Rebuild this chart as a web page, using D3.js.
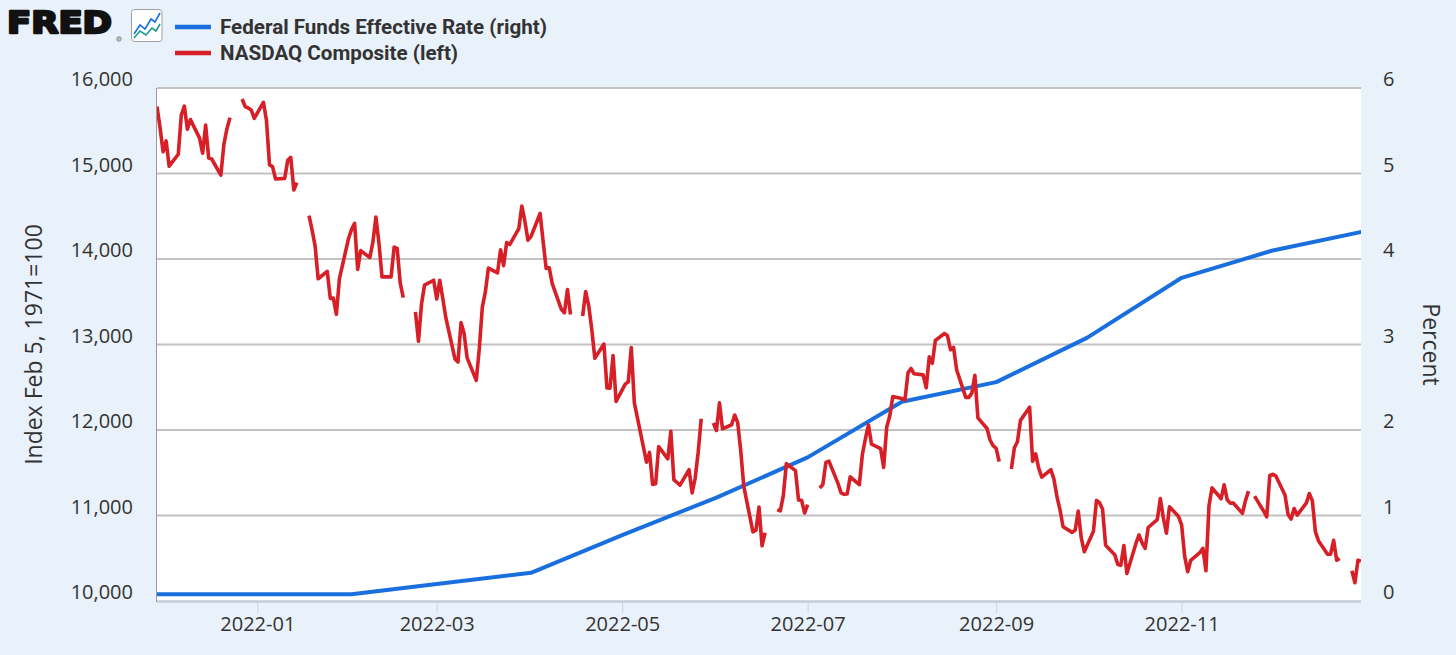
<!DOCTYPE html>
<html><head><meta charset="utf-8">
<script src="https://cdn.jsdelivr.net/npm/d3@7/dist/d3.min.js"></script>
<style>
html,body{margin:0;padding:0;background:#e9f1fa;}
svg{display:block;}
</style></head>
<body>
<svg id="chart" width="1456" height="655"></svg>
<script>
// ---------- DATA ----------
const seriesNames = ["Federal Funds Effective Rate (right)", "NASDAQ Composite (left)"];
const leftAxisTitle = "Index Feb 5, 1971=100";
const rightAxisTitle = "Percent";
const leftTicks = [10000, 11000, 12000, 13000, 14000, 15000, 16000];
const rightTicks = [0, 1, 2, 3, 4, 5, 6];
const xTickLabels = ["2022-01", "2022-03", "2022-05", "2022-07", "2022-09", "2022-11"];
const xDomain = ["2021-11-29", "2022-12-30"];

const fedFundsDates = ["2021-11-01","2021-12-01","2022-01-01","2022-02-01","2022-03-01","2022-04-01","2022-05-01","2022-06-01","2022-07-01","2022-08-01","2022-09-01","2022-10-01","2022-11-01","2022-12-01","2023-01-01"];
const fedFundsValues = [0.08,0.08,0.08,0.08,0.20,0.33,0.77,1.21,1.68,2.33,2.56,3.08,3.78,4.10,4.33];

// NASDAQ daily close (null = market holiday, breaks the line)
const nasdaq = [
["2021-11-29",15782.83],["2021-11-30",15537.69],
["2021-12-01",15254.05],["2021-12-02",15381.32],["2021-12-03",15085.47],["2021-12-06",15225.15],["2021-12-07",15686.92],
["2021-12-08",15786.99],["2021-12-09",15517.37],["2021-12-10",15630.60],["2021-12-13",15413.28],["2021-12-14",15237.64],
["2021-12-15",15565.58],["2021-12-16",15180.43],["2021-12-17",15169.68],["2021-12-20",14980.94],["2021-12-21",15341.09],
["2021-12-22",15521.89],["2021-12-23",15653.37],["2021-12-24",null],["2021-12-27",15871.26],["2021-12-28",15781.72],
["2021-12-29",15766.22],["2021-12-30",15741.56],["2021-12-31",15644.97],
["2022-01-03",15832.80],["2022-01-04",15622.72],["2022-01-05",15100.17],["2022-01-06",15080.86],["2022-01-07",14935.90],
["2022-01-10",14942.83],["2022-01-11",15153.45],["2022-01-12",15188.39],["2022-01-13",14806.81],["2022-01-14",14893.75],
["2022-01-17",null],["2022-01-18",14506.90],["2022-01-19",14340.26],["2022-01-20",14154.02],["2022-01-21",13768.92],
["2022-01-24",13855.13],["2022-01-25",13539.29],["2022-01-26",13542.12],["2022-01-27",13352.78],["2022-01-28",13770.57],
["2022-01-31",14239.88],
["2022-02-01",14346.00],["2022-02-02",14417.55],["2022-02-03",13878.82],["2022-02-04",14098.01],["2022-02-07",14015.67],
["2022-02-08",14194.45],["2022-02-09",14490.37],["2022-02-10",14185.64],["2022-02-11",13791.15],["2022-02-14",13790.92],
["2022-02-15",14139.76],["2022-02-16",14124.09],["2022-02-17",13716.72],["2022-02-18",13548.07],["2022-02-21",null],
["2022-02-22",13381.52],["2022-02-23",13037.49],["2022-02-24",13473.59],["2022-02-25",13694.62],["2022-02-28",13751.40],
["2022-03-01",13532.46],["2022-03-02",13752.02],["2022-03-03",13537.94],["2022-03-04",13313.44],["2022-03-07",12830.96],
["2022-03-08",12795.55],["2022-03-09",13255.55],["2022-03-10",13129.96],["2022-03-11",12843.81],["2022-03-14",12581.22],
["2022-03-15",12948.62],["2022-03-16",13436.55],["2022-03-17",13614.78],["2022-03-18",13893.84],["2022-03-21",13838.46],
["2022-03-22",14108.82],["2022-03-23",13922.60],["2022-03-24",14191.84],["2022-03-25",14169.30],["2022-03-28",14354.90],
["2022-03-29",14619.64],["2022-03-30",14442.27],["2022-03-31",14220.52],
["2022-04-01",14261.50],["2022-04-04",14532.55],["2022-04-05",14204.17],["2022-04-06",13888.82],["2022-04-07",13897.30],
["2022-04-08",13711.00],["2022-04-11",13411.96],["2022-04-12",13371.57],["2022-04-13",13643.59],["2022-04-14",13351.08],
["2022-04-15",null],["2022-04-18",13332.36],["2022-04-19",13619.66],["2022-04-20",13453.07],["2022-04-21",13174.65],
["2022-04-22",12839.29],["2022-04-25",13004.85],["2022-04-26",12490.74],["2022-04-27",12488.93],["2022-04-28",12871.53],
["2022-04-29",12334.64],
["2022-05-02",12536.02],["2022-05-03",12563.76],["2022-05-04",12964.86],["2022-05-05",12317.69],["2022-05-06",12144.66],
["2022-05-09",11623.25],["2022-05-10",11737.67],["2022-05-11",11364.24],["2022-05-12",11370.96],["2022-05-13",11805.00],
["2022-05-16",11662.79],["2022-05-17",11984.52],["2022-05-18",11418.15],["2022-05-19",11388.50],["2022-05-20",11354.62],
["2022-05-23",11535.27],["2022-05-24",11264.45],["2022-05-25",11434.74],["2022-05-26",11740.65],["2022-05-27",12131.13],
["2022-05-30",null],["2022-05-31",12081.39],
["2022-06-01",11994.46],["2022-06-02",12316.90],["2022-06-03",12012.73],["2022-06-06",12061.37],["2022-06-07",12175.23],
["2022-06-08",12086.27],["2022-06-09",11754.23],["2022-06-10",11340.02],["2022-06-13",10809.23],["2022-06-14",10828.35],
["2022-06-15",11099.15],["2022-06-16",10646.10],["2022-06-17",10798.35],["2022-06-20",null],["2022-06-21",11069.30],
["2022-06-22",11053.08],["2022-06-23",11232.19],["2022-06-24",11607.62],["2022-06-27",11524.55],["2022-06-28",11181.54],
["2022-06-29",11177.89],["2022-06-30",11028.74],
["2022-07-01",11127.85],["2022-07-04",null],["2022-07-05",11322.24],["2022-07-06",11361.85],["2022-07-07",11621.35],
["2022-07-08",11635.31],["2022-07-11",11372.60],["2022-07-12",11264.73],["2022-07-13",11247.58],["2022-07-14",11251.19],
["2022-07-15",11452.42],["2022-07-18",11360.05],["2022-07-19",11713.15],["2022-07-20",11897.65],["2022-07-21",12059.61],
["2022-07-22",11834.11],["2022-07-25",11782.67],["2022-07-26",11562.58],["2022-07-27",12032.42],["2022-07-28",12162.59],
["2022-07-29",12390.69],
["2022-08-01",12368.98],["2022-08-02",12348.76],["2022-08-03",12668.16],["2022-08-04",12720.58],["2022-08-05",12657.56],
["2022-08-08",12644.46],["2022-08-09",12493.93],["2022-08-10",12854.81],["2022-08-11",12779.91],["2022-08-12",13047.19],
["2022-08-15",13128.05],["2022-08-16",13102.55],["2022-08-17",12938.12],["2022-08-18",12965.34],["2022-08-19",12705.22],
["2022-08-22",12381.57],["2022-08-23",12381.30],["2022-08-24",12431.53],["2022-08-25",12639.27],["2022-08-26",12141.71],
["2022-08-29",12017.67],["2022-08-30",11883.14],["2022-08-31",11816.20],
["2022-09-01",11785.13],["2022-09-02",11630.86],["2022-09-05",null],["2022-09-06",11544.91],["2022-09-07",11791.90],
["2022-09-08",11862.13],["2022-09-09",12112.31],["2022-09-12",12266.41],["2022-09-13",11633.57],["2022-09-14",11719.68],
["2022-09-15",11552.36],["2022-09-16",11448.40],["2022-09-19",11535.02],["2022-09-20",11425.05],["2022-09-21",11220.19],
["2022-09-22",11066.81],["2022-09-23",10867.93],["2022-09-26",10802.92],["2022-09-27",10829.50],["2022-09-28",11051.64],
["2022-09-29",10737.51],["2022-09-30",10575.62],
["2022-10-03",10815.43],["2022-10-04",11176.41],["2022-10-05",11148.64],["2022-10-06",11073.31],["2022-10-07",10652.41],
["2022-10-10",10542.10],["2022-10-11",10426.19],["2022-10-12",10417.10],["2022-10-13",10649.15],["2022-10-14",10321.39],
["2022-10-17",10675.80],["2022-10-18",10772.40],["2022-10-19",10680.51],["2022-10-20",10614.84],["2022-10-21",10859.72],
["2022-10-24",10952.61],["2022-10-25",11199.12],["2022-10-26",10970.99],["2022-10-27",10792.68],["2022-10-28",11102.45],
["2022-10-31",10988.15],
["2022-11-01",10890.85],["2022-11-02",10524.80],["2022-11-03",10342.94],["2022-11-04",10475.25],["2022-11-07",10564.52],
["2022-11-08",10616.20],["2022-11-09",10353.17],["2022-11-10",11114.15],["2022-11-11",11323.33],["2022-11-14",11196.22],
["2022-11-15",11358.41],["2022-11-16",11183.66],["2022-11-17",11144.96],["2022-11-18",11146.06],["2022-11-21",11024.51],
["2022-11-22",11174.41],["2022-11-23",11285.32],["2022-11-24",null],["2022-11-25",11226.36],["2022-11-28",11049.50],
["2022-11-29",10983.78],["2022-11-30",11468.00],
["2022-12-01",11482.45],["2022-12-02",11461.50],["2022-12-05",11239.94],["2022-12-06",11014.89],["2022-12-07",10958.55],
["2022-12-08",11082.00],["2022-12-09",11004.62],["2022-12-12",11143.74],["2022-12-13",11256.81],["2022-12-14",11170.89],
["2022-12-15",10810.53],["2022-12-16",10705.41],["2022-12-19",10546.03],["2022-12-20",10547.11],["2022-12-21",10709.37],
["2022-12-22",10476.12],["2022-12-23",10497.86],["2022-12-26",null],["2022-12-27",10353.23],["2022-12-28",10213.29],
["2022-12-29",10478.09],["2022-12-30",10466.48]
];

// ---------- STYLE / LAYOUT ----------
const W = 1456, H = 655;
const plot = {left: 157, right: 1361, top: 88, bottom: 601};
const colors = {bg: "#e9f1fa", blue: "#1a6fdf", red: "#d61f26", grid: "#c2c2c2", text: "#333333"};
const tickFont = "'Open Sans', 'Noto Sans', sans-serif";

const parse = d3.utcParse("%Y-%m-%d");
const parseMonth = d3.utcParse("%Y-%m");

const svg = d3.select("#chart");
svg.append("rect").attr("width", W).attr("height", H).attr("fill", colors.bg);

const x = d3.scaleUtc().domain(xDomain.map(parse)).range([plot.left, plot.right]);
const yL = d3.scaleLinear().domain([leftTicks[0], leftTicks[leftTicks.length-1]]).range([plot.bottom, plot.top]);
const yR = d3.scaleLinear().domain([rightTicks[0], rightTicks[rightTicks.length-1]]).range([plot.bottom, plot.top]);

// plot background
svg.append("rect").attr("x", plot.left).attr("y", plot.top)
  .attr("width", plot.right - plot.left).attr("height", plot.bottom - plot.top).attr("fill", "#ffffff");

// gridlines
svg.append("g").selectAll("line").data(leftTicks.slice(1)).join("line")
  .attr("x1", plot.left).attr("x2", plot.right)
  .attr("y1", d => yL(d)).attr("y2", d => yL(d))
  .attr("stroke", colors.grid).attr("stroke-width", 2);

// left border
svg.append("line").attr("x1", plot.left - 0.5).attr("x2", plot.left - 0.5)
  .attr("y1", plot.top).attr("y2", plot.bottom + 1).attr("stroke", "#9a9a9a").attr("stroke-width", 1);

// x axis
const xTicks = xTickLabels.map(parseMonth);
const xAxis = d3.axisBottom(x).tickValues(xTicks).tickFormat(d3.utcFormat("%Y-%m")).tickSize(12).tickSizeOuter(0);
const gx = svg.append("g").attr("transform", `translate(0,${plot.bottom})`).call(xAxis);
gx.select(".domain").remove();
gx.selectAll(".tick line").attr("stroke", "#c8d4e4").attr("stroke-width", 1);
gx.selectAll(".tick text").attr("font-family", tickFont).attr("font-size", 20)
  .attr("fill", colors.text).attr("y", 16).attr("dy", "0.71em");
svg.append("line").attr("x1", plot.left).attr("x2", plot.right)
  .attr("y1", plot.bottom + 0.5).attr("y2", plot.bottom + 0.5)
  .attr("stroke", "#c5cbd8").attr("stroke-width", 2.5);

// left axis
const gyL = svg.append("g").attr("transform", `translate(${plot.left},0)`)
  .call(d3.axisLeft(yL).tickValues(leftTicks).tickFormat(d3.format(",")).tickSize(0));
gyL.select(".domain").remove();
gyL.selectAll(".tick text").attr("font-family", tickFont).attr("font-size", 20)
  .attr("fill", colors.text).attr("x", -24).attr("dy", "-0.12em");

// right axis
const gyR = svg.append("g").attr("transform", `translate(${plot.right},0)`)
  .call(d3.axisRight(yR).tickValues(rightTicks).tickFormat(d3.format("d")).tickSize(0));
gyR.select(".domain").remove();
gyR.selectAll(".tick text").attr("font-family", tickFont).attr("font-size", 20)
  .attr("fill", colors.text).attr("x", 22).attr("dy", "-0.12em");

// axis titles
svg.append("text").attr("transform", `translate(42,${(plot.top+plot.bottom)/2}) rotate(-90)`)
  .attr("text-anchor", "middle").attr("font-family", tickFont).attr("font-size", 23)
  .attr("fill", colors.text).text(leftAxisTitle);
svg.append("text").attr("transform", `translate(1423,${(plot.top+plot.bottom)/2}) rotate(90)`)
  .attr("text-anchor", "middle").attr("font-family", tickFont).attr("font-size", 23)
  .attr("fill", colors.text).text(rightAxisTitle);

// clip
svg.append("clipPath").attr("id", "clip").append("rect")
  .attr("x", plot.left).attr("y", plot.top - 5)
  .attr("width", plot.right - plot.left).attr("height", plot.bottom - plot.top + 10);

// fed funds line
const fedData = fedFundsDates.map((d, i) => [parse(d), fedFundsValues[i]]);
svg.append("path").datum(fedData).attr("clip-path", "url(#clip)")
  .attr("fill", "none").attr("stroke", colors.blue).attr("stroke-width", 4)
  .attr("stroke-linejoin", "round")
  .attr("d", d3.line().x(d => x(d[0])).y(d => yR(d[1])));

// nasdaq line
const nasData = nasdaq.map(d => [parse(d[0]), d[1]]);
svg.append("path").datum(nasData).attr("clip-path", "url(#clip)")
  .attr("fill", "none").attr("stroke", colors.red).attr("stroke-width", 3.6)
  .attr("stroke-linejoin", "round")
  .attr("d", d3.line().defined(d => d[1] !== null).x(d => x(d[0])).y(d => yL(d[1])));

// ---------- HEADER: logo + legend ----------
const logo = svg.append("g");
logo.append("text").attr("x", 7).attr("y", 33).attr("font-family", "'DejaVu Sans', sans-serif")
  .attr("font-weight", 900).attr("font-size", 31).attr("fill", "#111")
  .attr("stroke", "#111").attr("stroke-width", 2.4).attr("stroke-linejoin", "round")
  .attr("textLength", 105).attr("lengthAdjust", "spacingAndGlyphs").text("FRED");
logo.append("circle").attr("cx", 119).attr("cy", 39).attr("r", 2.3).attr("fill", "#bbb").attr("stroke", "#888").attr("stroke-width", 0.8);
logo.append("rect").attr("x", 131.5).attr("y", 9.5).attr("width", 30.5).attr("height", 32).attr("rx", 3)
  .attr("fill", "#ffffff").attr("stroke", "#a0a0a0").attr("stroke-width", 1);
logo.append("path").attr("d", "M134,34 L140,25 L145,29 L151,19 L155,22 L160,13")
  .attr("fill", "none").attr("stroke", "#1a6fdf").attr("stroke-width", 1.6);
logo.append("path").attr("d", "M134,38 L140,31 L146,35 L152,28 L156,31 L160,24")
  .attr("fill", "none").attr("stroke", "#1f9a8a").attr("stroke-width", 1.6);

const legend = svg.append("g");
const legendColors = [colors.blue, colors.red];
const legendY = [27, 53];
seriesNames.forEach((name, i) => {
  legend.append("line").attr("x1", 175).attr("x2", 211).attr("y1", legendY[i]).attr("y2", legendY[i])
    .attr("stroke", legendColors[i]).attr("stroke-width", 4.5);
  legend.append("text").attr("x", 220).attr("y", legendY[i] + 7)
    .attr("font-family", "Roboto, 'Noto Sans', sans-serif").attr("font-weight", 700)
    .attr("font-size", 20.6).attr("fill", colors.text).text(name);
});
</script>
</body></html>
